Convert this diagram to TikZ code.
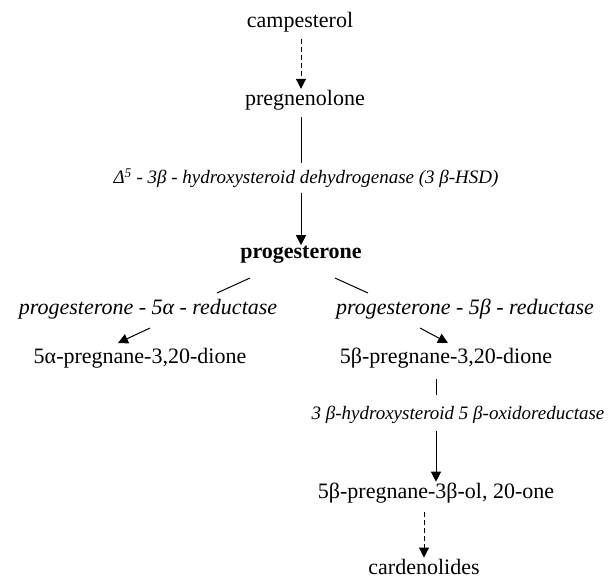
\documentclass[tikz,border=0pt]{standalone}
\usepackage{fontspec}
\setmainfont{Liberation Serif}
\usetikzlibrary{arrows.meta}
\tikzset{
  cpd/.style={inner sep=1pt, font=\fontsize{22}{26}\selectfont},
  enz/.style={inner sep=1pt, font=\fontsize{19}{24}\selectfont\itshape},
  bigenz/.style={enz, font=\fontsize{22}{26}\selectfont\itshape},
  link/.style={line width=1pt},
  rxn/.style={link, -{Triangle[width=10pt,length=10pt]}},
  minor/.style={rxn, dash pattern=on 5pt off 3pt},
}

\begin{document}
\begin{tikzpicture}[x=1pt,y=-1pt]
\useasboundingbox (0,0) rectangle (613,579);
% main chain
\node[cpd] (camp) at (300,22) {campesterol};
\node[cpd] (preg) at (305,100) {pregnenolone};
\node[enz] (hsd) at (306,178) {Δ\textsuperscript{5} - 3β - hydroxysteroid dehydrogenase (3 β-HSD)};
\node[cpd,font=\fontsize{22}{26}\selectfont\bfseries] (prog) at (301,255) {progesterone};
% the two reductases
\node[bigenz] (red5a) at (148,309) {progesterone - 5α - reductase};
\node[bigenz] (red5b) at (465,309) {progesterone - 5β - reductase};
\node[cpd] (dione5a) at (140,358) {5α-pregnane-3,20-dione};
\node[cpd] (dione5b) at (446,358) {5β-pregnane-3,20-dione};
% 5beta branch
\node[enz] (oxido) at (458,415) {3 β-hydroxysteroid 5 β-oxidoreductase};
\node[cpd] (olone) at (436,493) {5β-pregnane-3β-ol, 20-one};
\node[cpd,anchor=base] (card) at (424,574) {cardenolides};

\coordinate (la) at (250,278); \coordinate (lb) at (217,293);
\coordinate (ra) at (335,278); \coordinate (rb) at (368,293);
\coordinate (lc) at (150,328); \coordinate (ld) at (118,343);
\coordinate (rc) at (420,328); \coordinate (rd) at (448,343);

\draw[minor, shorten <=6pt] (camp.south -| prog) -- (preg.north -| prog);
\draw[link, shorten <=6pt, shorten >=4pt] (preg.south -| prog) -- (hsd.north -| prog);
\draw[rxn, shorten <=4pt] (hsd.south -| prog) -- (prog.north);
\draw[link] (la) -- (lb);
\draw[link] (ra) -- (rb);
\draw[rxn] (lc) -- (ld);
\draw[rxn] (rc) -- (rd);
\draw[link, shorten <=10pt, shorten >=10pt] (dione5b.south -| olone) -- (oxido.north -| olone);
\draw[rxn, shorten <=6pt] (oxido.south -| olone) -- (olone.north -| olone);
\draw[minor, shorten <=8pt] (olone.south -| card) -- (card.north);
\end{tikzpicture}
\end{document}
